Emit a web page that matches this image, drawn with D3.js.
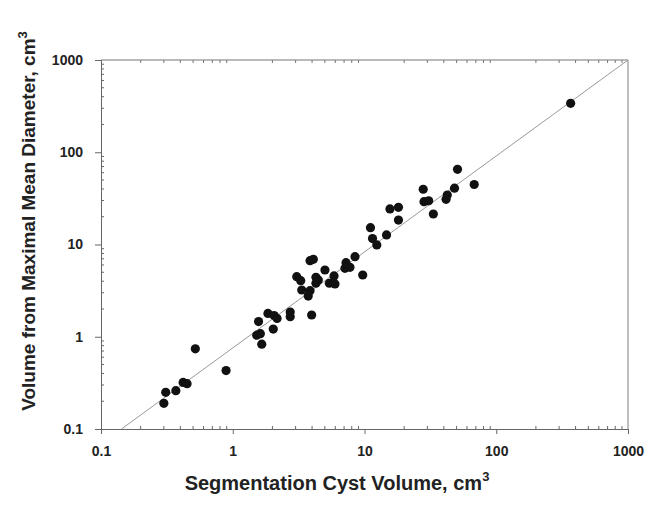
<!DOCTYPE html>
<html>
<head>
<meta charset="utf-8">
<script src="https://cdn.jsdelivr.net/npm/d3@7"></script>
<style>
  body { margin: 0; background: #fff; }
  text { font-family: "Liberation Sans", Arial, sans-serif; fill: #222; }
</style>
</head>
<body>
<svg id="chart" width="647" height="506"></svg>
<script>
// segmentation cyst volume (x) vs volume from maximal mean diameter (y), cm3
let segVolume = [0.30, 0.31, 0.37, 0.42, 0.45, 0.52, 0.89, 1.57, 1.52, 1.62, 1.66, 1.85, 2.06, 2.17, 2.03,
  2.73, 2.73, 3.97, 3.06, 3.28, 3.34, 3.86, 3.74, 3.86, 4.09, 4.28, 4.46, 4.28, 5.01, 5.41, 5.87, 5.97,
  7.24, 7.76, 7.11, 8.47, 9.69, 11.1, 11.5, 12.4, 14.7, 15.6, 18.1, 18.1, 27.9, 28.3, 30.7, 33.3,
  41.6, 42.5, 48.2, 50.8, 68.0, 367]
let diamVolume = [0.19, 0.25, 0.26, 0.32, 0.31, 0.74, 0.43, 1.46, 1.04, 1.08, 0.83, 1.79, 1.70, 1.58, 1.21,
  1.85, 1.65, 1.72, 4.48, 4.05, 3.21, 3.16, 2.76, 6.67, 6.91, 4.41, 4.12, 3.80, 5.29, 3.80, 4.56, 3.73,
  6.35, 5.66, 5.52, 7.38, 4.67, 15.2, 11.6, 9.9, 12.7, 24.3, 25.3, 18.4, 39.7, 29.1, 29.8, 21.4,
  30.9, 34.4, 40.8, 65.3, 44.7, 339]
let fitLine = [[0.143, 0.1], [1000, 1000]]
let majorTicks = [0.1, 1, 10, 100, 1000]
let tickLabels = ["0.1", "1", "10", "100", "1000"]

let margin = {left: 101, right: 19, top: 60, bottom: 77},
  width = 647,
  height = 506

let x = d3.scaleLog().domain([0.1, 1000]).range([margin.left, width - margin.right])
let y = d3.scaleLog().domain([0.1, 1000]).range([height - margin.bottom, margin.top])

let minorTicks = []
majorTicks.slice(0, -1).forEach(m => {
  for (let k = 2; k <= 9; k++) minorTicks.push(m * k)
})

let svg = d3.select("#chart")
let axisColor = "#666"

// frame: top and right lines
svg.append("line")
  .attr("x1", x(0.1)).attr("x2", x(1000)).attr("y1", y(1000)).attr("y2", y(1000))
  .attr("stroke", "#777").attr("stroke-width", 1.2)
svg.append("line")
  .attr("x1", x(1000)).attr("x2", x(1000)).attr("y1", y(1000)).attr("y2", y(0.1))
  .attr("stroke", "#aaa").attr("stroke-width", 1.5)

// bottom axis
let xAxis = svg.append("g")
  .attr("transform", `translate(0,${y(0.1)})`)
  .call(d3.axisBottom(x).tickValues(majorTicks).tickFormat((d, i) => tickLabels[i])
    .tickSize(5).tickPadding(12))
xAxis.selectAll(".domain, line").attr("stroke", axisColor)
xAxis.selectAll("text").attr("font-size", 14).attr("font-weight", "bold").attr("fill", "#222")
xAxis.selectAll(".minor").data(minorTicks).enter().append("line")
  .attr("x1", d => x(d)).attr("x2", d => x(d)).attr("y1", 0).attr("y2", -3)
  .attr("stroke", axisColor)

// left axis
let yAxis = svg.append("g")
  .attr("transform", `translate(${x(0.1)},0)`)
  .call(d3.axisLeft(y).tickValues(majorTicks).tickFormat((d, i) => tickLabels[i])
    .tickSize(6).tickPadding(12))
yAxis.selectAll(".domain, line").attr("stroke", axisColor)
yAxis.selectAll("text").attr("font-size", 14).attr("font-weight", "bold").attr("fill", "#222")
yAxis.selectAll(".minor").data(minorTicks).enter().append("line")
  .attr("y1", d => y(d)).attr("y2", d => y(d)).attr("x1", 0).attr("x2", 3)
  .attr("stroke", axisColor)

// top minor ticks
svg.append("g").selectAll("line").data(minorTicks).enter().append("line")
  .attr("x1", d => x(d)).attr("x2", d => x(d)).attr("y1", y(1000)).attr("y2", y(1000) + 3)
  .attr("stroke", "#777")

// identity-ish line
svg.append("path")
  .attr("d", d3.line().x(d => x(d[0])).y(d => y(d[1]))(fitLine))
  .attr("stroke", "#999").attr("stroke-width", 1).attr("fill", "none")

// points
svg.append("g").selectAll("circle")
  .data(segVolume.map((v, i) => [v, diamVolume[i]])).enter()
  .append("circle")
  .attr("cx", d => x(d[0]))
  .attr("cy", d => y(d[1]))
  .attr("r", 4.6)
  .attr("fill", "#111")

// axis titles
let xTitle = svg.append("text")
  .attr("x", 337).attr("y", 490)
  .attr("text-anchor", "middle")
  .attr("font-size", 20).attr("font-weight", "bold").attr("fill", "#333")
xTitle.append("tspan").text("Segmentation Cyst Volume, cm")
xTitle.append("tspan").attr("font-size", 13).attr("dy", -9).text("3")

let yTitle = svg.append("text")
  .attr("transform", "translate(35,221) rotate(-90)")
  .attr("text-anchor", "middle")
  .attr("font-size", 19).attr("font-weight", "bold").attr("fill", "#333")
yTitle.append("tspan").text("Volume from Maximal Mean Diameter, cm")
yTitle.append("tspan").attr("font-size", 13).attr("dy", -8).text("3")
</script>
</body>
</html>
